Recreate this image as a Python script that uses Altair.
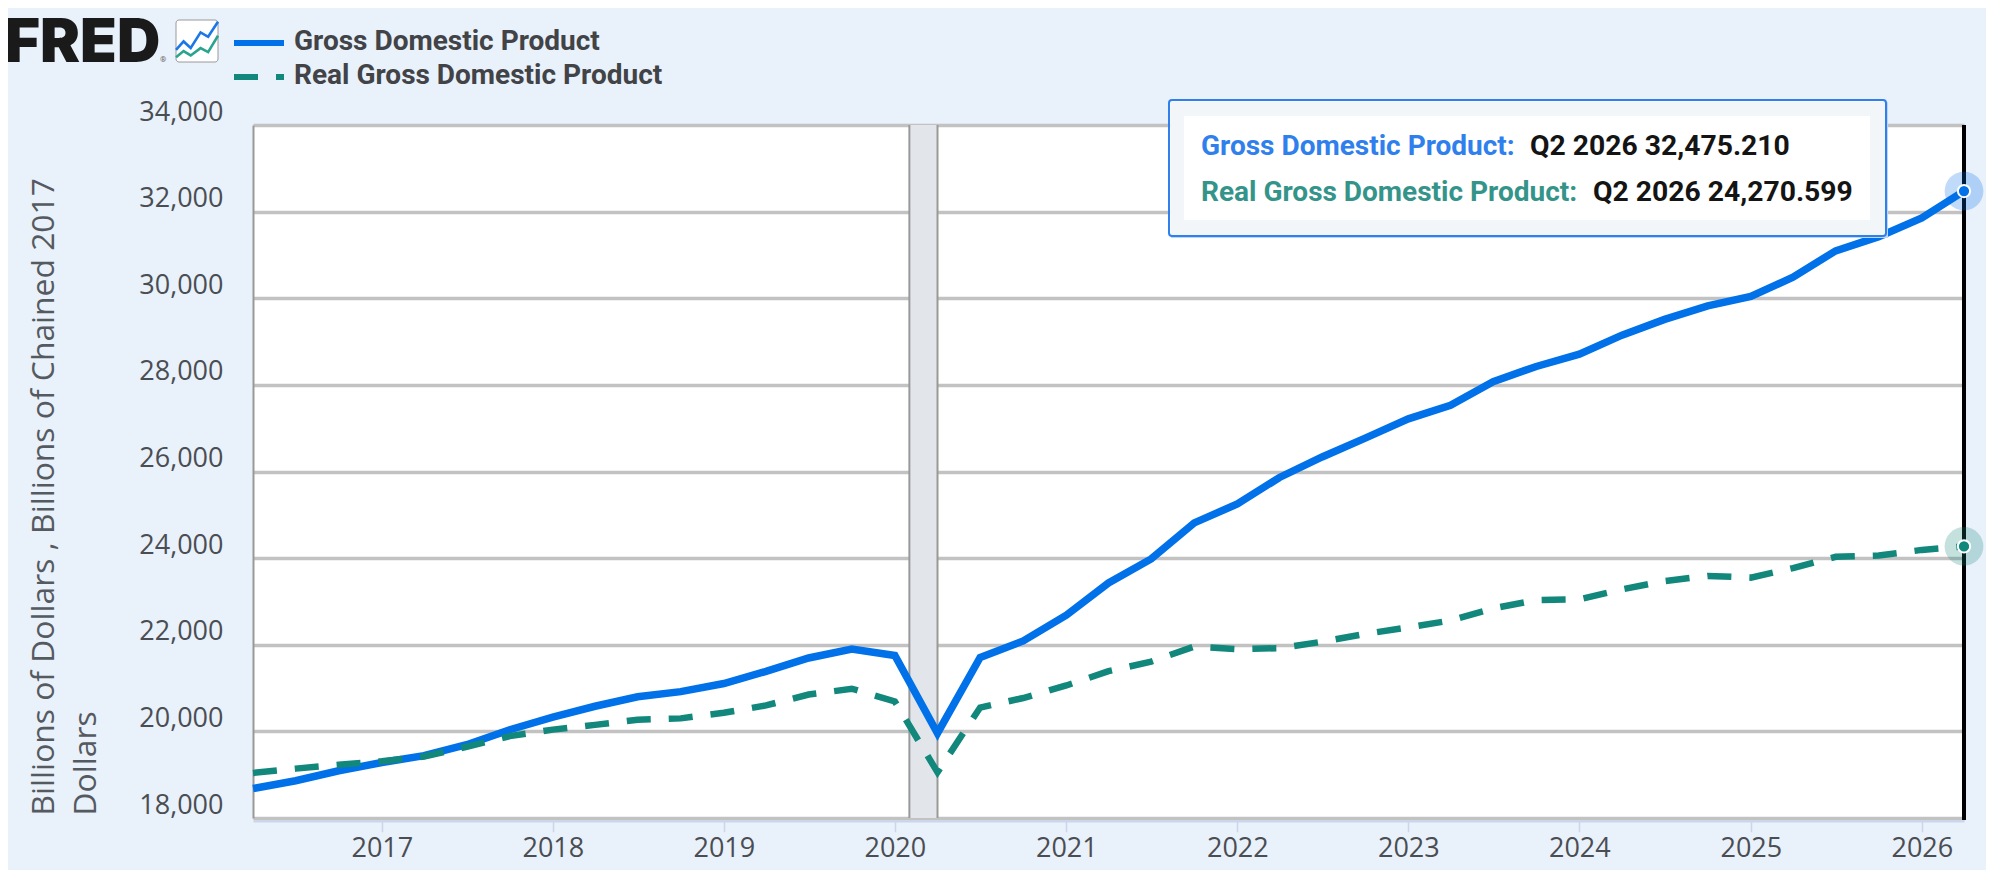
import altair as alt
import pandas as pd

dates = pd.date_range("2016-04-01", "2026-04-01", freq="QS").strftime("%Y-%m-%d").tolist()
gdp = [18680, 18860, 19090, 19280, 19439, 19693, 20037, 20329, 20580, 20799, 20918, 21104,
       21385, 21695, 21902, 21751, 19958, 21705, 22087, 22681, 23426, 23982, 24814, 25250,
       25862, 26336, 26771, 27216, 27530, 28075, 28425, 28708, 29147, 29512, 29825, 30042,
       30486, 31095, 31422, 31856, 32475.21]
real = [19040, 19140, 19230, 19310, 19420, 19645, 19890, 20040, 20150, 20270, 20300,
        20430, 20600, 20850, 20985, 20690, 19056, 20550, 20770, 21060, 21390, 21610, 21960,
        21900, 21920, 22070, 22250, 22400, 22560, 22840, 23030, 23050, 23280, 23470, 23590,
        23550, 23770, 24030, 24060, 24190, 24270.599]
y_ticks = [18000, 20000, 22000, 24000, 26000, 28000, 30000, 32000, 34000]
x_ticks = ["%d-01-01" % y for y in range(2017, 2027)]
recession = ["2020-02-01", "2020-04-01"]
series_names = ["Gross Domestic Product", "Real Gross Domestic Product"]
tip_values = ["Q2 2026 32,475.210", "Q2 2026 24,270.599"]
y_title = ["Billions of Dollars , Billions of Chained 2017", "Dollars"]

BLUE = "#0071e8"
TEAL = "#12877b"
BG = "#e9f1fb"
TEXT = "#4a4d52"
LEFT, TOP = 245, 117   # padding
W, H = 1711, 693
OX, OY = LEFT + 8, TOP + 8

xscale = alt.Scale(type="utc", domain=[dates[0], dates[-1]])
yscale = alt.Scale(domain=[18000, 34000], nice=False, zero=False)
df = pd.DataFrame({"date": dates, "gdp": gdp, "real": real})
last = df.tail(1)

x_axis = alt.Axis(values=x_ticks, labelExpr="utcFormat(datum.value,'%Y')", title=None, grid=False,
                  offset=2.7, domainColor="#ccd6eb", domainWidth=2.5, tickColor="#ccd6eb", tickWidth=1.5,
                  tickSize=11, labelFont="Open Sans", labelFontSize=27, labelColor=TEXT, labelPadding=4,
                  labelFlush=False, labelOverlap=False)
y_axis = alt.Axis(values=y_ticks, labelExpr="format(datum.value,',')", grid=True, gridColor="#c2c2c2",
                  gridWidth=3.3, ticks=False, domainColor="#999999", domainWidth=2, labelFont="Open Sans",
                  labelFontSize=27, labelColor=TEXT, labelPadding=30, labelOffset=-13,
                  title=y_title, titleFont="Open Sans", titleFontSize=31.8, titleFontWeight="normal",
                  titleColor="#555a60", titleAngle=270, titleAlign="left", titleBaseline="alphabetic",
                  titleX=-200, titleY=690, titleLineHeight=42, labelOverlap=False)

band_df = pd.DataFrame({"a": [recession[0]], "b": [recession[1]]})
band = alt.Chart(band_df).mark_rect(color="#e2e6eb").encode(
    x=alt.X("a:T", scale=xscale, axis=x_axis), x2="b:T",
    y=alt.value(0), y2=alt.value(H))
edges = alt.Chart(pd.DataFrame({"d": recession})).mark_rule(color="#999999", strokeWidth=2).encode(
    x=alt.X("d:T", scale=xscale, axis=x_axis))


def series(field, color, width, dash=None):
    kw = dict(strokeDash=dash, strokeCap="butt") if dash else {}
    return alt.Chart(df).mark_line(color=color, strokeWidth=width, **kw).encode(
        x=alt.X("date:T", scale=xscale, axis=x_axis),
        y=alt.Y(field + ":Q", scale=yscale, axis=y_axis))


blue_line = series("gdp", BLUE, 7.5)
teal_line = series("real", TEAL, 6.5, [24, 18])
cursor = alt.Chart(last).mark_rule(color="#000000", strokeWidth=4).encode(
    x=alt.X("date:T", scale=xscale, axis=x_axis), y=alt.value(0), y2=alt.value(H + 2))


def marker(field, color):
    base = alt.Chart(last).encode(
        x=alt.X("date:T", scale=xscale, axis=x_axis),
        y=alt.Y(field + ":Q", scale=yscale, axis=y_axis))
    return (base.mark_circle(size=1500, color=color, opacity=0.25)
            + base.mark_point(size=150, filled=True, fill=color, stroke="white", strokeWidth=2, opacity=1))


def box(x0, x1, y0, y1, **kw):
    return alt.Chart(pd.DataFrame({"v": [0]})).mark_rect(**kw).encode(
        x=alt.value(x0 - OX), x2=alt.value(x1 - OX), y=alt.value(y0 - OY), y2=alt.value(y1 - OY))


def label(s, x, y, size, color, font="Roboto", weight=700, **kw):
    return alt.Chart(pd.DataFrame({"t": [s]})).mark_text(
        align="left", baseline="alphabetic", font=font, fontSize=size, fontWeight=weight, color=color, **kw
    ).encode(x=alt.value(x - OX), y=alt.value(y - OY), text="t:N")


def hline(x0, x1, y, color, dash=None):
    kw = dict(strokeDash=dash) if dash else {}
    return alt.Chart(pd.DataFrame({"v": [0]})).mark_rule(color=color, strokeWidth=6, **kw).encode(
        x=alt.value(x0 - OX), x2=alt.value(x1 - OX), y=alt.value(y - OY))


def glyph(path, x, y, size, **kw):
    return alt.Chart(pd.DataFrame({"v": [0]})).mark_point(shape=path, size=size, opacity=1, **kw).encode(
        x=alt.value(x - OX), y=alt.value(y - OY))


icon_blue = "M-1,.42L-.64,.02L-.3,.33L.17,-.41L.53,-.2L1,-.92"
icon_green = "M-1,.77L-.64,.48L-.3,.69L.17,.34L.53,.53L1,-.25"

header = [
    label("FRED", 5, 62, 60, "#1a1a1a", font="Inter", weight=900),
    label("®", 160, 62, 8, "#666666", font="Roboto", weight=400),
    box(176, 218, 20, 62, fill="white", stroke="#9a9a9a", strokeWidth=1, cornerRadius=3),
    glyph(icon_green, 197, 41, 1760, filled=False, stroke="#2aa38f", strokeWidth=2.6),
    glyph(icon_blue, 197, 41, 1760, filled=False, stroke="#1a78e6", strokeWidth=2.6),
    hline(234, 284, 43, BLUE),
    hline(234, 284, 77, TEAL, [24, 18]),
    label(series_names[0], 294, 50, 28, "#414347"),
    label(series_names[1], 294, 84, 28, "#414347"),
]
tooltip = [
    box(1171, 1888, 102, 238, fill="#bcd6f6"),
    box(1169, 1886, 100, 236, fill="#f8f9fa", fillOpacity=0.9, stroke="#2f80ed", strokeWidth=2, cornerRadius=3),
    box(1184, 1870, 116, 220, fill="white"),
    label(series_names[0] + ":", 1201, 155, 28, "#2f80ed"),
    label(tip_values[0], 1530, 155, 28.3, "#141414"),
    label(series_names[1] + ":", 1201, 201, 28, "#34948a"),
    label(tip_values[1], 1593, 201, 28.3, "#141414"),
]

chart = alt.layer(
    band, edges, blue_line, teal_line, cursor,
    marker("gdp", BLUE), marker("real", TEAL), *tooltip, *header
).properties(
    width=W, height=H,
    background=BG,
    padding={"left": LEFT, "top": TOP, "right": 1978 - LEFT - W, "bottom": 862 - TOP - H},
    autosize=alt.AutoSizeParams(type="none"),
).configure_view(fill="white", stroke=None)

chart.save("out.html", embed_options={"renderer": "svg", "actions": False})
